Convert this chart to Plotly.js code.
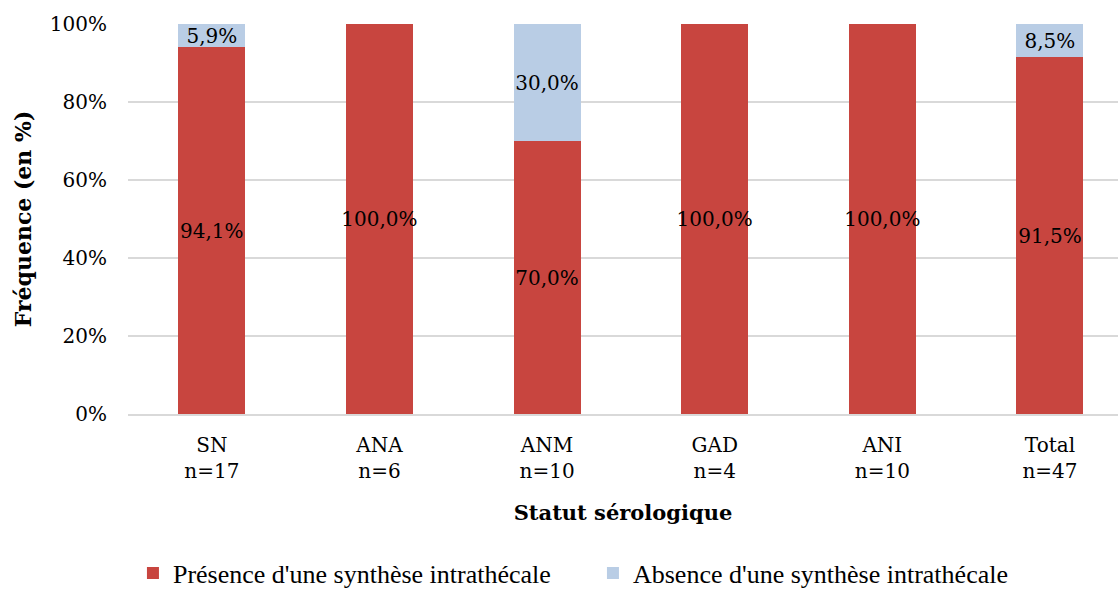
<!DOCTYPE html>
<html>
<head>
<meta charset="utf-8">
<script src="https://cdn.plot.ly/plotly-3.0.1.min.js"></script>
<style>
html,body{margin:0;padding:0;background:#fff;overflow:hidden;}
#chart{width:1118px;height:592px;}
</style>
</head>
<body>
<div id="chart"></div>
<script>
var groups = ['SN', 'ANA', 'ANM', 'GAD', 'ANI', 'Total'];
var counts = [17, 6, 10, 4, 10, 47];
var presence = [94.1, 100.0, 70.0, 100.0, 100.0, 91.5];
var absence = [5.9, 0, 30.0, 0, 0, 8.5];
var seriesNames = ["Présence d'une synthèse intrathécale", "Absence d'une synthèse intrathécale"];
var yTickVals = [0, 20, 40, 60, 80, 100];

var categories = groups.map(function (g, i) { return g + '<br>n=' + counts[i]; });
function fmt(v) { return v > 0 ? v.toFixed(1).replace('.', ',') + '%' : ''; }

var serif = 'DejaVu Serif, Liberation Serif, serif';
var labelFont = {family: serif, size: 20, color: '#000'};

function barTrace(vals, name, color) {
  return {
    type: 'bar',
    x: categories,
    y: vals,
    name: name,
    marker: {color: color, line: {width: 0}},
    text: vals.map(fmt),
    textposition: 'inside',
    insidetextanchor: 'middle',
    textangle: 0,
    constraintext: 'none',
    textfont: labelFont,
    insidetextfont: labelFont,
    hoverinfo: 'skip'
  };
}

var data = [
  barTrace(presence, seriesNames[0], '#C8453F'),
  barTrace(absence, seriesNames[1], '#B9CDE5')
];

var layout = {
  width: 1118,
  height: 592,
  margin: {l: 127.5, r: 0, t: 24, b: 178},
  paper_bgcolor: '#fff',
  plot_bgcolor: '#fff',
  barmode: 'stack',
  bargap: 0.6,
  hovermode: false,
  showlegend: true,
  font: {family: serif, size: 20, color: '#000'},
  xaxis: {
    type: 'category',
    range: [-0.5, 5.406],
    showgrid: false,
    zeroline: false,
    showline: true,
    linecolor: '#D9D9D9',
    linewidth: 2,
    ticks: '',
    tickfont: {family: serif, size: 20, color: '#000'},
    ticklabelstandoff: 12,
    automargin: false,
    title: {
      text: '<b>Statut sérologique</b>',
      font: {family: serif, size: 21, color: '#000'},
      standoff: 23
    }
  },
  yaxis: {
    range: [0, 100],
    tickvals: yTickVals,
    ticktext: yTickVals.map(function (v) { return v + '%'; }),
    showgrid: true,
    gridcolor: '#D9D9D9',
    gridwidth: 2,
    zeroline: false,
    showline: false,
    ticks: '',
    tickfont: {family: serif, size: 20, color: '#000'},
    ticklabelstandoff: 20,
    automargin: false,
    title: {
      text: '<b>Fréquence (en %)</b>',
      font: {family: serif, size: 22, color: '#000'},
      standoff: 12
    }
  },
  legend: {
    orientation: 'h',
    xref: 'paper',
    yref: 'container',
    x: 0.005,
    xanchor: 'left',
    y: 0.032,
    yanchor: 'middle',
    traceorder: 'normal',
    itemwidth: 30,
    entrywidth: 415,
    font: {family: 'Liberation Serif, serif', size: 26, color: '#000'},
    bgcolor: 'rgba(0,0,0,0)'
  }
};

Plotly.newPlot('chart', data, layout, {displayModeBar: false, staticPlot: true});
</script>
</body>
</html>
